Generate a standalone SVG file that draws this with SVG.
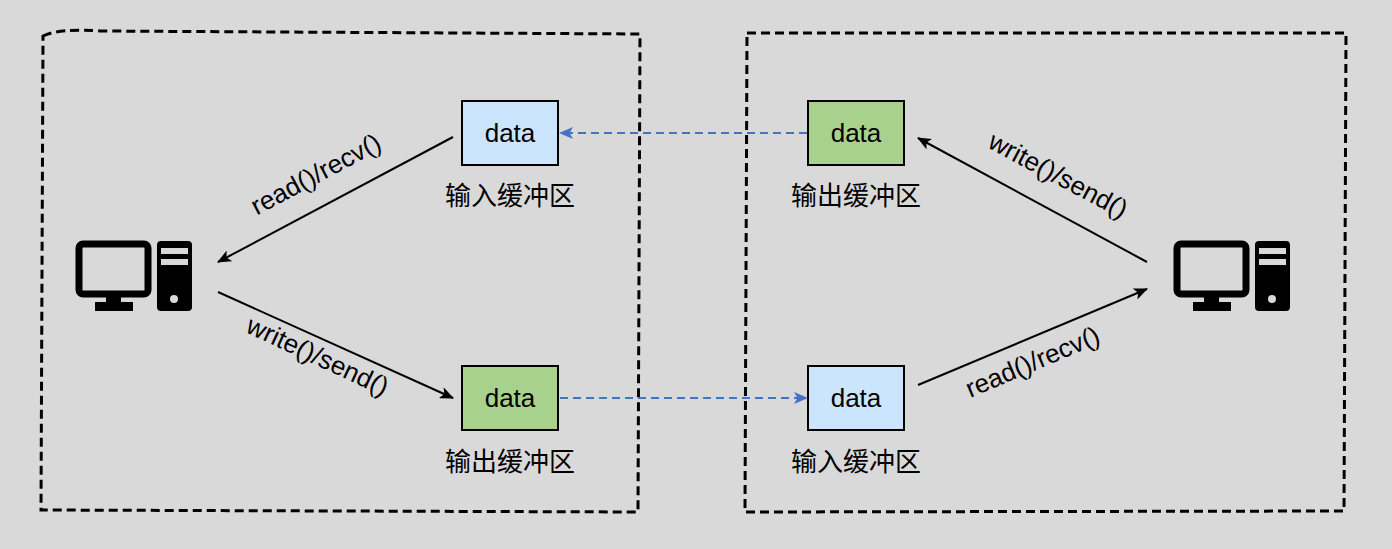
<svg xmlns="http://www.w3.org/2000/svg" width="1392" height="549" viewBox="0 0 1392 549">
<style>
.frame{fill:none;stroke:#000;stroke-width:3;stroke-dasharray:9 5}
.blue{fill:#cce5ff;stroke:#000;stroke-width:2}
.green{fill:#a9d18e;stroke:#000;stroke-width:2}
.t{font-family:"Liberation Sans",Arial,sans-serif;font-size:26px;fill:#000}
.c{font-family:"Noto Sans CJK SC","Liberation Sans",sans-serif;font-size:26px;fill:#000}
.a{stroke:#000;stroke-width:2;fill:none;marker-end:url(#ah)}
.d{stroke:#4472c4;stroke-width:2;fill:none;stroke-dasharray:8 5;marker-end:url(#ahb)}
</style>
<defs>
<marker id="ah" markerWidth="14" markerHeight="12" refX="13" refY="6" orient="auto" markerUnits="userSpaceOnUse"><path d="M0,0 L14,6 L0,12 L3.5,6 Z" fill="#000"/></marker>
<marker id="ahb" markerWidth="14" markerHeight="12" refX="13" refY="6" orient="auto" markerUnits="userSpaceOnUse"><path d="M0,0 L14,6 L0,12 L3.5,6 Z" fill="#4472c4"/></marker>
<g id="pc"><rect x="3" y="3" width="69" height="50" rx="4" fill="none" stroke="#000" stroke-width="7"/><rect x="30" y="56" width="15" height="6" fill="#000"/><rect x="19" y="61" width="38" height="9" fill="#000"/><rect x="81" y="0" width="35" height="70" rx="4" fill="#000"/><rect x="85" y="7" width="27" height="6" fill="#d9d9d9"/><rect x="85" y="18" width="27" height="6" fill="#d9d9d9"/><circle cx="98" cy="58" r="4" fill="#d9d9d9"/></g>
</defs>
<rect width="1392" height="549" fill="#d9d9d9"/>
<g id="frames">
<path class="frame" d="M43,36 Q60,28 100,31 L640,34 L638,512 L41,510 Z"/>
<path class="frame" d="M747,33 L1346,33 L1344,511 L745,512 Z"/>
</g>
<g id="pc-left"><use href="#pc" x="76" y="241"/></g>
<g id="pc-right"><use href="#pc" x="1174" y="241"/></g>
<g id="n1"><rect class="blue" x="462" y="101" width="96" height="64"/><text class="t" x="510" y="142" text-anchor="middle">data</text><text class="c" x="510" y="205" text-anchor="middle">输入缓冲区</text></g>
<g id="n2"><rect class="green" x="462" y="366" width="96" height="64"/><text class="t" x="510" y="407" text-anchor="middle">data</text><text class="c" x="510" y="471" text-anchor="middle">输出缓冲区</text></g>
<g id="n3"><rect class="green" x="808" y="101" width="96" height="64"/><text class="t" x="856" y="142" text-anchor="middle">data</text><text class="c" x="856" y="205" text-anchor="middle">输出缓冲区</text></g>
<g id="n4"><rect class="blue" x="808" y="366" width="96" height="64"/><text class="t" x="856" y="407" text-anchor="middle">data</text><text class="c" x="856" y="471" text-anchor="middle">输入缓冲区</text></g>
<g id="connectors">
<line class="a" x1="453" y1="137" x2="218" y2="262"/>
<line class="a" x1="218" y1="292" x2="453" y2="398"/>
<line class="a" x1="1147" y1="262" x2="918" y2="138"/>
<line class="a" x1="918" y1="385" x2="1147" y2="289"/>
<line class="d" x1="807" y1="133" x2="560" y2="133"/>
<line class="d" x1="560" y1="398" x2="807" y2="398"/>
<text class="t" transform="translate(320,182) rotate(-28)" text-anchor="middle">read()/recv()</text>
<text class="t" transform="translate(314,364) rotate(25)" text-anchor="middle">write()/send()</text>
<text class="t" transform="translate(1054,183) rotate(28)" text-anchor="middle">write()/send()</text>
<text class="t" transform="translate(1036,370) rotate(-23)" text-anchor="middle">read()/recv()</text>
</g>
</svg>
